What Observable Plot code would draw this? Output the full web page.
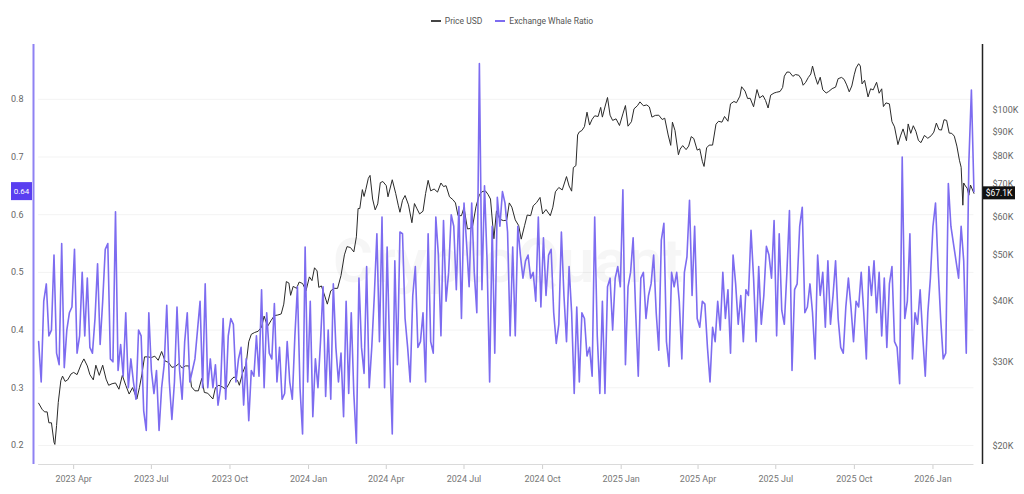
<!DOCTYPE html>
<html>
<head>
<meta charset="utf-8">
<script src="https://cdn.jsdelivr.net/npm/d3@7"></script>
<script src="https://cdn.jsdelivr.net/npm/@observablehq/plot@0.6"></script>
<style>
  body { margin: 0; background: #fff; font-family: Roboto, "Open Sans", sans-serif; }
  #wrap { position: relative; width: 1024px; height: 494px; overflow: hidden; }
  #legend { position: absolute; top: 6px; left: 0; width: 1024px; height: 30px; display: flex; justify-content: center; align-items: center; gap: 13px; font-size: 8.5px; color: #555; }
  #legend .item { display: flex; align-items: center; gap: 4px; }
  #legend .sw { display: inline-block; width: 10px; }
  .layer { position: absolute; left: 0; top: 32px; }
</style>
</head>
<body>
<div id="wrap">
  <div id="legend"></div>
  <div id="price" class="layer"></div>
  <div id="whale" class="layer"></div>
</div>
<script>
// ---------------- DATA ----------------
const seriesNames = ["Price USD", "Exchange Whale Ratio"];
const brandText = "CryptoQuant";

// Exchange Whale Ratio, one reading every 3 days starting 2023-02-19
const whaleStart = "2023-02-19";
const whaleStepDays = 3;
const whaleRatio = [
  0.38,0.31,0.45,0.48,0.39,0.40,0.53,0.36,0.34,0.55,
  0.335,0.40,0.43,0.44,0.54,0.36,0.39,0.50,0.39,0.49,
  0.37,0.36,0.42,0.515,0.375,0.45,0.54,0.55,0.35,0.345,
  0.605,0.33,0.375,0.32,0.43,0.30,0.35,0.31,0.28,0.40,
  0.39,0.26,0.226,0.43,0.33,0.29,0.33,0.226,0.30,0.34,
  0.443,0.31,0.245,0.31,0.44,0.33,0.28,0.38,0.43,0.31,
  0.33,0.35,0.40,0.45,0.30,0.48,0.30,0.35,0.30,0.34,
  0.27,0.30,0.42,0.28,0.39,0.42,0.41,0.31,0.35,0.37,
  0.27,0.35,0.243,0.33,0.32,0.39,0.32,0.47,0.30,0.43,
  0.36,0.35,0.446,0.31,0.37,0.28,0.29,0.38,0.31,0.28,
  0.39,0.475,0.30,0.22,0.544,0.31,0.45,0.25,0.35,0.30,
  0.38,0.475,0.285,0.40,0.28,0.48,0.37,0.31,0.36,0.25,
  0.45,0.29,0.43,0.29,0.204,0.49,0.37,0.325,0.51,0.30,
  0.37,0.46,0.567,0.38,0.596,0.30,0.544,0.36,0.22,0.52,
  0.34,0.57,0.567,0.42,0.37,0.31,0.46,0.51,0.37,0.38,
  0.43,0.31,0.567,0.38,0.36,0.596,0.53,0.39,0.59,0.45,
  0.50,0.60,0.58,0.47,0.614,0.42,0.62,0.55,0.475,0.62,
  0.50,0.43,0.862,0.47,0.65,0.52,0.31,0.58,0.36,0.63,
  0.58,0.64,0.62,0.57,0.39,0.544,0.39,0.58,0.53,0.49,
  0.52,0.53,0.49,0.50,0.45,0.596,0.44,0.56,0.46,0.53,
  0.54,0.43,0.377,0.41,0.57,0.46,0.38,0.51,0.43,0.29,
  0.44,0.31,0.43,0.42,0.355,0.37,0.32,0.596,0.39,0.29,
  0.45,0.29,0.475,0.49,0.40,0.49,0.51,0.475,0.643,0.34,
  0.475,0.50,0.56,0.43,0.32,0.49,0.50,0.42,0.46,0.48,
  0.53,0.43,0.365,0.556,0.585,0.38,0.337,0.50,0.475,0.50,
  0.45,0.35,0.50,0.527,0.625,0.46,0.58,0.42,0.405,0.45,
  0.445,0.37,0.31,0.405,0.38,0.45,0.40,0.50,0.42,0.47,
  0.36,0.53,0.48,0.41,0.46,0.38,0.47,0.46,0.573,0.49,
  0.38,0.51,0.41,0.46,0.545,0.53,0.49,0.59,0.39,0.567,
  0.434,0.41,0.50,0.607,0.33,0.47,0.48,0.58,0.613,0.43,
  0.44,0.48,0.43,0.35,0.53,0.46,0.50,0.405,0.52,0.41,
  0.46,0.52,0.42,0.37,0.36,0.44,0.49,0.44,0.38,0.45,
  0.44,0.50,0.43,0.35,0.51,0.46,0.52,0.43,0.50,0.39,
  0.49,0.37,0.48,0.51,0.38,0.37,0.307,0.70,0.42,0.45,
  0.567,0.35,0.43,0.41,0.47,0.39,0.32,0.43,0.49,0.58,
  0.62,0.51,0.42,0.35,0.36,0.654,0.58,0.55,0.52,0.49,
  0.58,0.52,0.36,0.69,0.816,0.64
];

// Price USD (thousands of dollars)
const priceDates = [
  "2023-02-19","2023-02-23","2023-02-26","2023-03-01","2023-03-03","2023-03-06","2023-03-09","2023-03-10","2023-03-12","2023-03-14",
  "2023-03-17","2023-03-19","2023-03-22","2023-03-25","2023-03-29","2023-04-01","2023-04-05","2023-04-10","2023-04-13","2023-04-17",
  "2023-04-20","2023-04-24","2023-04-27","2023-05-01","2023-05-05","2023-05-09","2023-05-12","2023-05-16","2023-05-20","2023-05-24",
  "2023-05-28","2023-06-01","2023-06-05","2023-06-09","2023-06-14","2023-06-17","2023-06-20","2023-06-23","2023-06-27","2023-07-01",
  "2023-07-05","2023-07-09","2023-07-13","2023-07-17","2023-07-21","2023-07-25","2023-07-29","2023-08-02","2023-08-06","2023-08-10",
  "2023-08-14","2023-08-17","2023-08-21","2023-08-25","2023-08-29","2023-09-01","2023-09-05","2023-09-11","2023-09-14","2023-09-18",
  "2023-09-22","2023-09-26","2023-09-30","2023-10-02","2023-10-06","2023-10-10","2023-10-12","2023-10-16","2023-10-20","2023-10-23",
  "2023-10-26","2023-10-30","2023-11-03","2023-11-07","2023-11-10","2023-11-14","2023-11-18","2023-11-22","2023-11-26","2023-11-30",
  "2023-12-03","2023-12-06","2023-12-09","2023-12-11","2023-12-14","2023-12-18","2023-12-21","2023-12-25","2023-12-29","2024-01-02",
  "2024-01-05","2024-01-08","2024-01-11","2024-01-13","2024-01-16","2024-01-19","2024-01-23","2024-01-27","2024-01-31","2024-02-04",
  "2024-02-08","2024-02-12","2024-02-15","2024-02-19","2024-02-23","2024-02-26","2024-02-28","2024-03-01","2024-03-04","2024-03-06",
  "2024-03-08","2024-03-11","2024-03-13","2024-03-16","2024-03-19","2024-03-22","2024-03-25","2024-03-28","2024-04-01","2024-04-03",
  "2024-04-08","2024-04-12","2024-04-15","2024-04-17","2024-04-20","2024-04-23","2024-04-27","2024-05-01","2024-05-04","2024-05-07",
  "2024-05-10","2024-05-14","2024-05-17","2024-05-20","2024-05-23","2024-05-27","2024-05-31","2024-06-04","2024-06-07","2024-06-10",
  "2024-06-14","2024-06-18","2024-06-21","2024-06-24","2024-06-28","2024-07-01","2024-07-05","2024-07-08","2024-07-11","2024-07-15",
  "2024-07-19","2024-07-22","2024-07-26","2024-07-29","2024-08-01","2024-08-05","2024-08-08","2024-08-12","2024-08-16","2024-08-20",
  "2024-08-23","2024-08-26","2024-08-30","2024-09-03","2024-09-06","2024-09-10","2024-09-13","2024-09-17","2024-09-20","2024-09-24",
  "2024-09-28","2024-10-01","2024-10-05","2024-10-10","2024-10-13","2024-10-16","2024-10-20","2024-10-24","2024-10-29","2024-11-01",
  "2024-11-04","2024-11-06","2024-11-09","2024-11-11","2024-11-13","2024-11-16","2024-11-19","2024-11-22","2024-11-25","2024-11-28",
  "2024-12-01","2024-12-05","2024-12-08","2024-12-10","2024-12-13","2024-12-16","2024-12-19","2024-12-22","2024-12-26","2024-12-30",
  "2025-01-03","2025-01-06","2025-01-09","2025-01-13","2025-01-16","2025-01-20","2025-01-23","2025-01-27","2025-01-31","2025-02-03",
  "2025-02-06","2025-02-10","2025-02-14","2025-02-18","2025-02-21","2025-02-25","2025-02-28","2025-03-02","2025-03-05","2025-03-09",
  "2025-03-11","2025-03-14","2025-03-18","2025-03-21","2025-03-24","2025-03-27","2025-03-31","2025-04-03","2025-04-06","2025-04-08",
  "2025-04-11","2025-04-14","2025-04-18","2025-04-22","2025-04-25","2025-04-29","2025-05-02","2025-05-06","2025-05-09","2025-05-13",
  "2025-05-16","2025-05-20","2025-05-22","2025-05-26","2025-05-29","2025-06-01","2025-06-05","2025-06-09","2025-06-12","2025-06-16",
  "2025-06-19","2025-06-22","2025-06-25","2025-06-29","2025-07-02","2025-07-06","2025-07-09","2025-07-11","2025-07-14","2025-07-17",
  "2025-07-21","2025-07-24","2025-07-28","2025-07-31","2025-08-02","2025-08-05","2025-08-08","2025-08-11","2025-08-13","2025-08-16",
  "2025-08-19","2025-08-22","2025-08-25","2025-08-29","2025-09-01","2025-09-05","2025-09-09","2025-09-12","2025-09-16","2025-09-19",
  "2025-09-22","2025-09-25","2025-09-28","2025-10-01","2025-10-03","2025-10-06","2025-10-08","2025-10-10","2025-10-13","2025-10-17",
  "2025-10-20","2025-10-23","2025-10-27","2025-10-30","2025-11-02","2025-11-04","2025-11-07","2025-11-11","2025-11-14","2025-11-17",
  "2025-11-20","2025-11-21","2025-11-24","2025-11-27","2025-12-01","2025-12-03","2025-12-06","2025-12-09","2025-12-12","2025-12-15",
  "2025-12-18","2025-12-22","2025-12-26","2025-12-30","2026-01-02","2026-01-05","2026-01-08","2026-01-11","2026-01-14","2026-01-17",
  "2026-01-20","2026-01-23","2026-01-26","2026-01-29","2026-02-01","2026-02-03","2026-02-05","2026-02-06","2026-02-08","2026-02-10",
  "2026-02-12","2026-02-14","2026-02-18"
];
const priceUSD = [
  24.6,23.9,23.6,23.6,22.4,22.4,20.4,20.2,22.1,24.7,
  27.4,28.0,27.3,27.5,28.3,28.5,28.2,29.7,30.4,29.4,
  28.2,27.5,29.5,28.1,29.5,27.6,26.8,27.0,27.1,26.3,
  28.1,26.8,25.7,26.5,25.1,26.5,28.3,30.7,30.7,30.6,
  30.8,30.2,31.5,30.1,29.9,29.2,29.3,29.7,29.1,29.4,
  29.4,26.6,26.1,26.1,27.7,25.9,25.8,25.1,26.5,26.8,
  26.6,26.3,27.0,27.5,27.9,27.4,26.8,28.5,29.7,33.0,
  34.2,34.5,34.7,35.4,37.3,35.5,36.5,37.4,37.5,37.7,
  39.5,44.0,43.7,41.2,43.0,42.6,43.9,43.6,42.1,45.0,
  44.2,47.0,46.3,42.8,43.1,41.6,39.5,42.1,42.6,42.6,
  45.3,50.0,52.0,51.8,50.7,54.5,62.4,62.4,68.3,66.1,
  68.3,72.1,73.1,65.3,62.0,63.8,70.6,71.0,69.6,66.0,
  71.6,67.1,63.4,61.3,64.9,66.4,63.5,58.3,63.9,62.3,
  60.8,61.6,67.0,71.4,67.9,68.5,67.5,70.5,69.3,69.6,
  66.0,65.1,64.1,60.3,60.3,62.7,56.6,56.7,57.3,62.9,
  66.7,67.6,67.9,66.8,65.3,54.0,61.7,59.3,58.9,59.0,
  64.1,62.8,59.1,57.5,53.9,57.6,60.5,60.3,63.2,64.2,
  65.8,60.8,62.1,60.3,62.8,67.6,69.0,68.2,72.7,69.5,
  67.8,75.9,76.6,88.7,90.0,90.6,92.3,98.9,93.0,95.6,
  97.2,96.9,101.2,96.6,101.4,106.1,97.5,95.1,95.8,92.8,
  98.1,102.1,92.5,94.5,100.5,102.0,103.9,102.0,102.4,101.4,
  96.6,97.4,97.5,95.5,96.1,88.7,84.4,94.3,90.6,80.7,
  82.9,84.3,82.7,84.1,88.0,87.2,82.5,83.0,78.2,76.3,
  83.4,84.5,84.5,93.4,94.7,94.3,96.9,94.7,102.9,104.1,
  103.5,106.8,111.7,109.4,105.6,105.7,101.5,110.2,105.9,107.1,
  104.6,100.9,107.3,108.4,108.8,109.2,111.3,117.5,119.8,119.8,
  117.4,118.4,118.0,115.8,112.5,114.1,116.7,118.7,123.3,117.4,
  113.0,116.9,110.1,108.4,109.2,110.7,111.5,116.1,116.8,115.7,
  112.7,109.0,112.1,118.6,122.2,124.7,123.3,113.2,115.2,106.4,
  110.6,110.0,114.1,108.3,110.6,101.6,103.4,102.9,94.5,92.2,
  86.6,84.7,88.3,91.3,86.3,93.5,89.4,92.7,90.3,86.4,
  85.5,88.5,87.3,88.4,89.9,93.9,91.0,90.8,95.4,95.1,
  89.5,89.4,88.2,84.1,78.6,76.0,63.4,70.5,69.5,68.8,
  66.5,69.8,67.1
];

// Axis ticks
const xTicks = ["2023-04-01","2023-07-01","2023-10-01","2024-01-01","2024-04-01","2024-07-01","2024-10-01","2025-01-01","2025-04-01","2025-07-01","2025-10-01","2026-01-01"];
const whaleTicks = [0.2, 0.3, 0.4, 0.5, 0.6, 0.7, 0.8];
const priceTicks = [20, 30, 40, 50, 60, 70, 80, 90, 100]; // thousands

// ---------------- CHART ----------------
const purple = "#7d6cf0";
const font = "Roboto, 'Open Sans', sans-serif";
const W = 1024, H = 462;
const margins = { marginLeft: 33, marginRight: 42, marginTop: 12, marginBottom: 30 };
const xDomain = [new Date("2023-02-13"), new Date("2026-02-28")];

const whaleData = whaleRatio.map((v, i) => ({ date: d3.utcDay.offset(new Date(whaleStart), whaleStepDays * i), v }));
const priceData = priceDates.map((d, i) => ({ date: new Date(d), p: priceUSD[i] }));
const firstDate = whaleData[0].date;
const lastDate = whaleData[whaleData.length - 1].date;

// legend
const legend = document.getElementById("legend");
[["#444", 1.5], [purple, 2]].forEach(([c, h], i) => {
  const item = document.createElement("span");
  item.className = "item";
  const sw = document.createElement("span");
  sw.className = "sw";
  sw.style.background = c;
  sw.style.height = h + "px";
  item.appendChild(sw);
  item.appendChild(document.createTextNode(seriesNames[i]));
  legend.appendChild(item);
});

const baseStyle = { background: "transparent", fontFamily: font, fontSize: "9px", overflow: "visible" };

const priceChart = Plot.plot({
  width: W, height: H, ...margins,
  style: baseStyle,
  x: { type: "utc", domain: xDomain },
  y: { type: "log", domain: [18.35, 136.7] },
  marks: [
    Plot.text([brandText], { frameAnchor: "middle", dy: 8, fontSize: 62, fontWeight: 600, fill: "#000", fillOpacity: 0.035 }),
    Plot.axisX(xTicks.map(d => new Date(d)), { tickFormat: d3.utcFormat("%Y %b"), tickSize: 5, tickPadding: 6, stroke: "#cfcfcf", fill: "#777", label: null }),
    Plot.axisY(priceTicks, { anchor: "right", tickFormat: d => `$${d}K`, tickSize: 0, tickPadding: 10, fill: "#666", label: null }),
    Plot.lineY(priceData, { x: "date", y: "p", stroke: "#2a2a2a", strokeWidth: 1 }),
    Plot.ruleX([xDomain[1]], { stroke: "#222", strokeWidth: 1.5 })
  ]
});

const whaleChart = Plot.plot({
  width: W, height: H, ...margins,
  style: baseStyle,
  x: { type: "utc", domain: xDomain, axis: null },
  y: { domain: [0.167, 0.895] },
  marks: [
    Plot.ruleY(whaleTicks, { x1: firstDate, x2: lastDate, stroke: "#000", strokeOpacity: 0.05 }),
    Plot.ruleY([0.167], { x1: firstDate, x2: lastDate, stroke: "#dadada" }),
    Plot.axisY(whaleTicks, { anchor: "left", tickFormat: d3.format(".1f"), tickSize: 0, tickPadding: 10, fill: "#666", label: null }),
    Plot.lineY(whaleData, { x: "date", y: "v", stroke: purple, strokeWidth: 1.6, strokeLinejoin: "round" }),
    Plot.ruleX([xDomain[0]], { stroke: "#8f82f3", strokeWidth: 2 })
  ]
});

document.getElementById("price").appendChild(priceChart);
document.getElementById("whale").appendChild(whaleChart);

// last-value tags, positioned through the charts' own scales
function scaleFn(chart, name) {
  const s = chart.scale(name);
  if (s && typeof s.apply === "function") return v => s.apply(v);
  return s.type === "log" ? d3.scaleLog(s.domain, s.range) : (s.type === "utc" ? d3.scaleUtc(s.domain, s.range) : d3.scaleLinear(s.domain, s.range));
}
{
  const sx = scaleFn(whaleChart, "x"), sy = scaleFn(whaleChart, "y");
  const v = whaleRatio[whaleRatio.length - 1];
  const x0 = sx(xDomain[0]), y0 = sy(v);
  const g = d3.select(whaleChart).append("g");
  g.append("rect").attr("x", x0 - 22).attr("y", y0 - 9).attr("width", 21).attr("height", 18).attr("fill", "#5a3ff0");
  g.append("text").attr("x", x0 - 11.5).attr("y", y0).attr("dy", "0.35em").attr("text-anchor", "middle")
    .attr("fill", "#fff").attr("font-size", 8).attr("font-family", font).text(d3.format(".2f")(v));
}
{
  const sx = scaleFn(priceChart, "x"), sy = scaleFn(priceChart, "y");
  const p = priceUSD[priceUSD.length - 1];
  const x1 = sx(xDomain[1]), y1 = sy(p);
  const g = d3.select(whaleChart).append("g");
  g.append("rect").attr("x", x1 + 1).attr("y", y1 - 6.5).attr("width", 32).attr("height", 13).attr("fill", "#111");
  g.append("text").attr("x", x1 + 17).attr("y", y1).attr("dy", "0.35em").attr("text-anchor", "middle")
    .attr("fill", "#fff").attr("font-size", 8.5).attr("font-family", font).text(`$${p}K`);
}
</script>
</body>
</html>
